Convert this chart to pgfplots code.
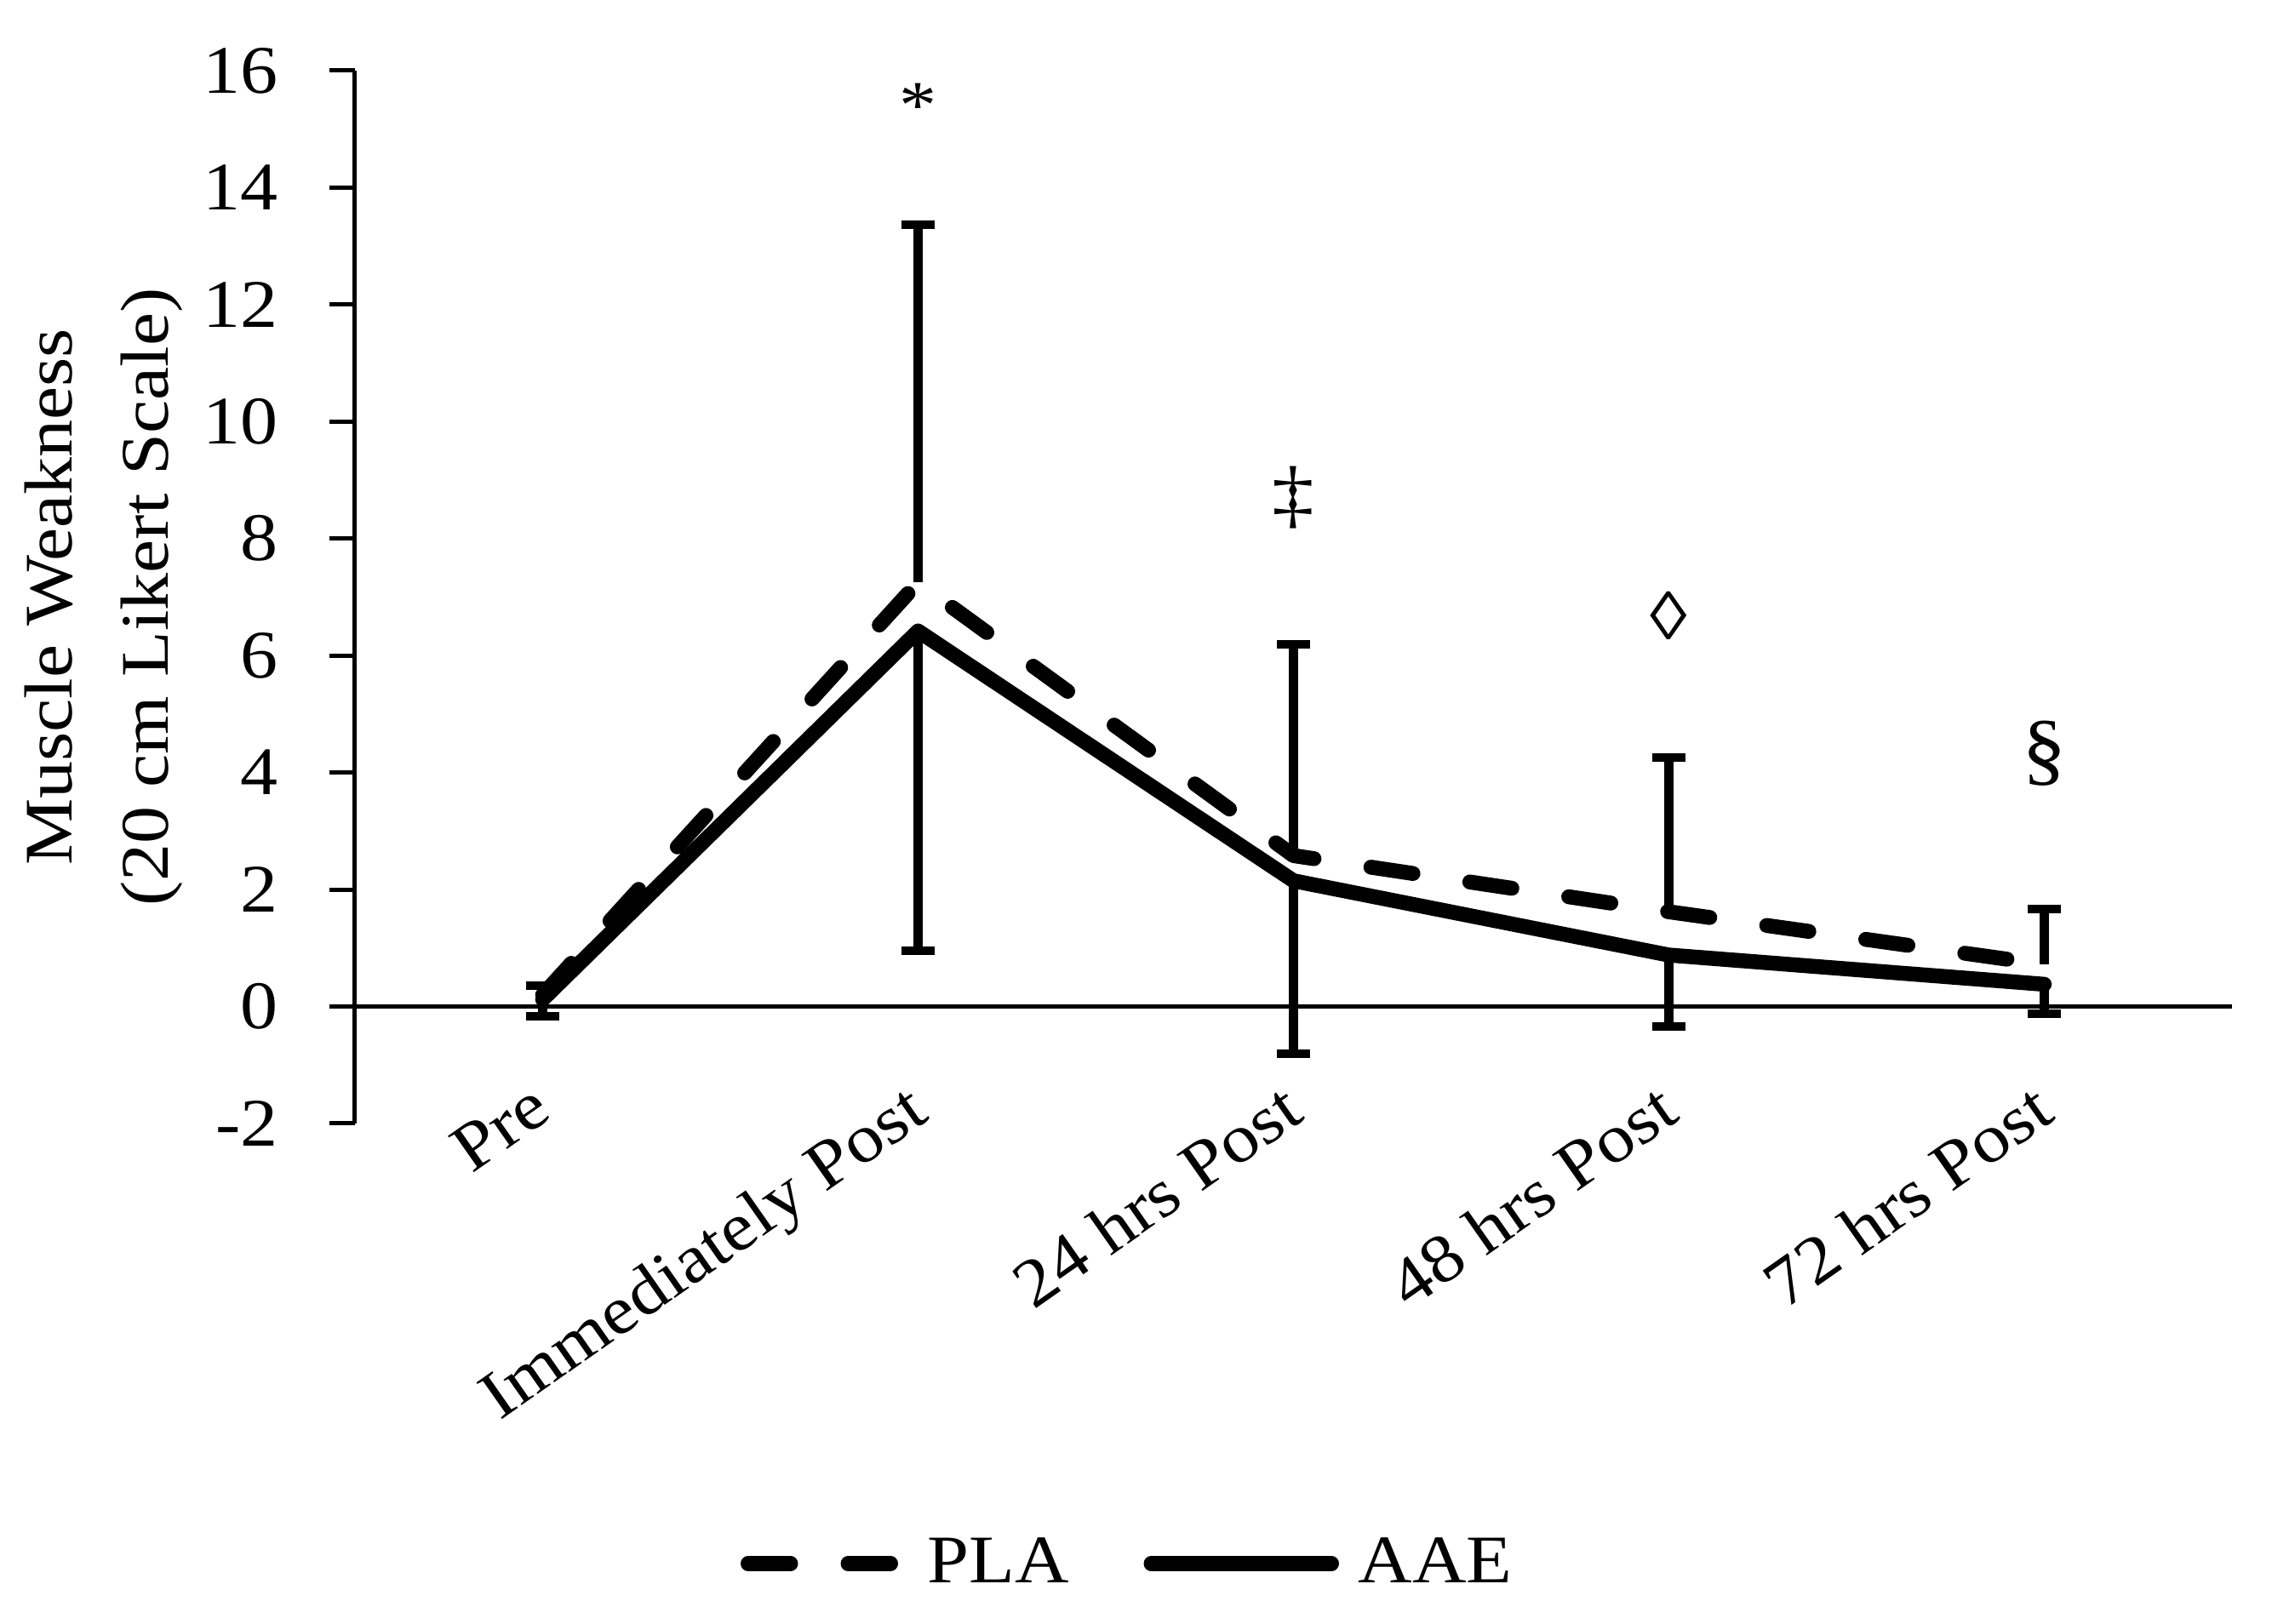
\documentclass[border=0pt]{standalone}
\usepackage{fontspec}
\setmainfont{Liberation Serif}[FakeStretch=1.1]
\usepackage{pgfplots}
\pgfplotsset{compat=1.18}
\usepackage{pgfplotstable}

\pgfplotstableread{
x   y     ep
0   0.20  0.15
1   7.25  6.11
2   2.58  3.61
3   1.62  2.63
4   0.72  0.95
}\PLA
\pgfplotstableread{
x   y     em
0   0.12  0.29
1   6.42  5.46
2   2.15  2.95
3   0.88  1.22
4   0.38  0.51
}\AAE

\begin{document}
\begin{tikzpicture}
\path[use as bounding box] (-83.4pt,-117.6pt) rectangle (450.4pt,264pt);
\begin{axis}[
  at={(0,0)}, anchor=south west,
  scale only axis,
  width=441pt, height=247.4pt,
  xmin=-0.5, xmax=4.5,
  ymin=-2, ymax=16,
  clip=false,
  axis lines*=left,
  x axis line style={draw=none},
  y axis line style={line width=1pt, black},
  xtick={0,1,2,3,4},
  xticklabels={Pre, Immediately Post, 24 hrs Post, 48 hrs Post, 72 hrs Post},
  xtick style={draw=none},
  ytick={-2,0,...,16},
  ytick style={line width=1pt, black},
  tick align=outside,
  major tick length=6pt,
  /pgf/number format/assume math mode=true,
  every tick label/.append style={font=\fontsize{16}{19}\selectfont},
  yticklabel style={inner sep=0pt, xshift=-11.8pt},
  xticklabel style={xshift=-3.3pt, yshift=16.4pt, rotate=35, anchor=north east, inner sep=0pt},
  legend columns=2,
  legend style={at={(rel axis cs:0.205,-0.418)}, anchor=west, draw=none, fill=none,
    inner sep=0pt, font=\fontsize{16}{19}\selectfont,
    nodes={inner sep=0pt},
    /tikz/every even column/.append style={column sep=17.5pt}},
]
\draw[line width=1pt] (axis cs:-0.5,0) -- (axis cs:4.5,0);

\addplot[black, line width=3.5pt, line cap=round, line join=round,
  dash pattern=on 10pt off 13.5pt,
  legend image code/.code={\draw[black, line width=3.5pt, line cap=round, dash pattern=on 10pt off 13.5pt] (0pt,0pt) -- (34pt,0pt); \path[draw=none] (0pt,0pt) -- (42.2pt,0pt);},
  error bars/.cd, y dir=plus, y explicit,
  error bar style={solid, line width=2.1pt, line cap=butt},
  error mark=-,
  error mark options={rotate=90, solid, line width=2pt, mark size=3.9pt, black}]
  table[x=x, y=y, y error plus=ep] {\PLA};
\addlegendentry{PLA}

\addplot[black, line width=3.5pt, line cap=round, line join=round,
  legend image code/.code={\draw[black, line width=3.5pt, line cap=round] (0pt,0pt) -- (42.4pt,0pt); \path[draw=none] (0pt,0pt) -- (48.7pt,0pt);},
  error bars/.cd, y dir=minus, y explicit,
  error bar style={solid, line width=2.1pt, line cap=butt},
  error mark=-,
  error mark options={rotate=90, solid, line width=2pt, mark size=3.9pt, black}]
  table[x=x, y=y, y error minus=em] {\AAE};
\addlegendentry{AAE}

\node[anchor=north, inner sep=0pt, font=\fontsize{16}{19}\selectfont] at (axis cs:1,15.8) {*};
\node[anchor=north, inner sep=0pt, font=\fontsize{18}{19}\selectfont] at (axis cs:2,9.25) {‡};
\node[anchor=north, inner sep=0pt, font=\fontsize{16}{19}\selectfont] at (axis cs:3,7.1) {◊};
\node[anchor=north, inner sep=0pt, font=\fontsize{19}{19}\selectfont] at (axis cs:4,4.9) {§};

\node[rotate=90, align=center, font=\fontsize{16}{22.6}\selectfont]
  at (rel axis cs:-0.1338,0.5) {Muscle Weakness\\(20 cm Likert Scale)};
\end{axis}
\end{tikzpicture}
\end{document}
